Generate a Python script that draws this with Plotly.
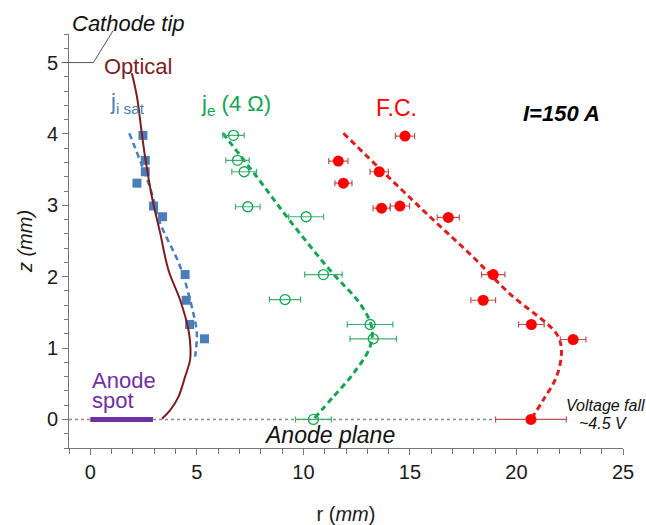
import plotly.graph_objects as go

# --- Ion saturation current profile (j_i sat) ---
jisat_r = [2.47, 2.58, 2.58, 2.19, 2.97, 3.39, 4.45, 4.50, 4.66, 5.36]
jisat_z = [3.98, 3.63, 3.47, 3.31, 2.99, 2.84, 2.03, 1.67, 1.33, 1.13]
jisat_fit_r = [1.83, 2.81, 3.28, 4.22, 4.84, 5.00, 4.92]
jisat_fit_z = [4.01, 3.24, 2.75, 2.14, 1.48, 1.20, 0.88]

# --- Optical boundary ---
opt_r = [1.95, 2.19, 2.42, 2.58, 2.89, 3.28, 3.67, 4.22, 4.61, 4.70, 4.68, 4.45, 4.14, 3.75, 3.36]
opt_z = [4.85, 4.52, 4.00, 3.66, 3.12, 2.61, 2.09, 1.67, 1.25, 1.00, 0.83, 0.60, 0.32, 0.13, 0.01]

# --- Electron current, 4 ohm probe (j_e) ---
je_r = [6.72, 6.91, 7.22, 7.39, 10.13, 10.94, 9.14, 13.13, 13.28, 10.47]
je_z = [3.98, 3.63, 3.47, 2.98, 2.84, 2.03, 1.68, 1.33, 1.13, 0.00]
je_err = [0.50, 0.55, 0.58, 0.58, 0.82, 0.88, 0.73, 1.07, 1.09, 0.84]
je_fit_r = [6.22, 7.81, 9.30, 11.25, 12.66, 13.20, 13.13, 12.34, 11.41, 10.47]
je_fit_z = [4.01, 3.40, 2.81, 2.09, 1.62, 1.30, 1.02, 0.64, 0.32, 0.00]

# --- Faraday cup (F.C.) ---
fc_r = [14.77, 11.64, 13.56, 11.88, 13.67, 14.53, 16.80, 18.91, 18.44, 20.70, 22.66, 20.68]
fc_z = [3.97, 3.62, 3.47, 3.31, 2.96, 2.99, 2.83, 2.03, 1.67, 1.33, 1.12, 0.00]
fc_err = [0.45, 0.45, 0.43, 0.40, 0.40, 0.45, 0.52, 0.55, 0.58, 0.60, 0.60, 1.66]
fc_fit_r = [11.88, 13.91, 15.94, 17.81, 19.69, 21.88, 22.11, 21.88, 21.25, 20.68]
fc_fit_z = [4.01, 3.42, 2.84, 2.32, 1.76, 1.20, 0.97, 0.60, 0.27, 0.00]

# --- Anode spot extent and anode plane ---
spot_r = [0.0, 2.94]
spot_z = [0.0, 0.0]
plane_r = [-1.0, 19.0]
plane_z = [0.0, 0.0]

FONT = "Liberation Sans, Arial, sans-serif"
BLUE = "#4A7EBB"
GREEN = "#13A552"
GREEN_ERR = "#3FAF73"
RED = "#FF0000"
RED_LINE = "#E21B1B"
RED_ERR = "#C0504D"
MAROON = "#7A1F1F"
PURPLE = "#7030A0"

fig = go.Figure()

fig.add_trace(go.Scatter(x=plane_r, y=plane_z, mode="lines",
                         line=dict(color="#8C8C8C", width=1.5, dash="dot"),
                         hoverinfo="skip"))
fig.add_trace(go.Scatter(x=spot_r, y=spot_z, mode="lines",
                         line=dict(color=PURPLE, width=5)))

fig.add_trace(go.Scatter(x=jisat_fit_r, y=jisat_fit_z, mode="lines",
                         line=dict(color=BLUE, width=2.5, dash="6px,4px", shape="spline")))
fig.add_trace(go.Scatter(x=jisat_r, y=jisat_z, mode="markers",
                         marker=dict(symbol="square", size=9, color=BLUE)))

fig.add_trace(go.Scatter(x=opt_r, y=opt_z, mode="lines",
                         line=dict(color=MAROON, width=2, shape="spline")))

fig.add_trace(go.Scatter(x=je_fit_r, y=je_fit_z, mode="lines",
                         line=dict(color=GREEN, width=3, dash="6px,4px", shape="spline")))
fig.add_trace(go.Scatter(x=je_r, y=je_z, mode="markers",
                         marker=dict(symbol="circle-open", size=10, color=GREEN,
                                     line=dict(width=1.3, color=GREEN)),
                         error_x=dict(type="data", array=je_err, color=GREEN_ERR,
                                      thickness=1.2, width=3)))

fig.add_trace(go.Scatter(x=fc_fit_r, y=fc_fit_z, mode="lines",
                         line=dict(color=RED_LINE, width=3, dash="6px,4px", shape="spline")))
fig.add_trace(go.Scatter(x=fc_r, y=fc_z, mode="markers",
                         marker=dict(symbol="circle", size=11, color=RED),
                         error_x=dict(type="data", array=fc_err, color=RED_ERR,
                                      thickness=1.2, width=3)))

# Leader line from the z = 5 level up to the "Cathode tip" label
fig.add_shape(type="path", xref="paper", yref="paper",
              path="M -0.013 0.931 L 0.044 0.931 L 0.080 1.009",
              line=dict(color="#555555", width=1))
fig.add_annotation(x=0.107, y=1.026, xref="paper", yref="paper",
                   text="<i>Cathode tip</i>", showarrow=False,
                   xanchor="center", yanchor="middle",
                   font=dict(family=FONT, size=22, color="#111111"))

def note(x, y, text, size, color="#111111", xanchor="center"):
    fig.add_annotation(x=x, y=y, xref="x", yref="y", text=text, showarrow=False,
                       xanchor=xanchor, yanchor="middle",
                       font=dict(family=FONT, size=size, color=color))

note(2.23, 4.94, "Optical", 22, MAROON)
note(1.73, 4.44, "j<sub>i sat</sub>", 22, BLUE)
note(6.84, 4.40, "j<sub>e</sub> (4 Ω)", 22, GREEN)
note(14.35, 4.36, "F.C.", 23, RED)
note(22.11, 4.29, "<b><i>I=150 A</i></b>", 22, "#000000")
note(0.0, 0.54, "Anode", 22, PURPLE, xanchor="left")
note(0.0, 0.26, "spot", 22, PURPLE, xanchor="left")
note(11.23, -0.22, "<i>Anode plane</i>", 23)
note(24.19, 0.20, "<i>Voltage fall</i>", 16)
note(24.05, -0.05, "<i>~4.5 V</i>", 16)

axis_common = dict(showgrid=False, zeroline=False, showline=True, linecolor="#777777",
                   linewidth=1, ticks="outside", tickcolor="#777777", ticklen=6,
                   automargin=False,
                   tickfont=dict(family=FONT, size=20, color="#1a1a1a"))

fig.update_xaxes(range=[-1, 25], dtick=5, tick0=0,
                 minor=dict(dtick=1, ticks="outside", ticklen=5, tickcolor="#777777"),
                 title=dict(text="r (<i>mm</i>)", font=dict(family=FONT, size=20, color="#1a1a1a"),
                            standoff=25),
                 **axis_common)
fig.update_yaxes(range=[-0.4, 5.4], dtick=1, tick0=0,
                 minor=dict(dtick=0.2, ticks="outside", ticklen=4, tickcolor="#777777"),
                 title=dict(text="<i>z (mm)</i>", font=dict(family=FONT, size=20, color="#1a1a1a"),
                            standoff=8),
                 **axis_common)

fig.update_layout(width=646, height=525, showlegend=False,
                  margin=dict(l=69, r=23, t=34, b=77),
                  plot_bgcolor="white", paper_bgcolor="white",
                  font=dict(family=FONT))

fig.write_html("out.html")
